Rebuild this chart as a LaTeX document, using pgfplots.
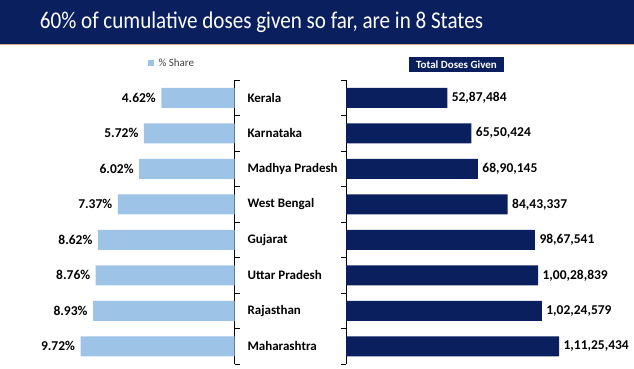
\documentclass[border=0pt]{standalone}
\usepackage{pgfplots}
\pgfplotsset{compat=1.18}
\usepackage{pgfplotstable}
\usepackage{graphicx}
\usepackage{fontspec}
\setmainfont{Carlito}
\definecolor{navy}{HTML}{0A1F5E}
\definecolor{lblue}{HTML}{9DC3E6}
\definecolor{tan}{HTML}{D9A98C}

\pgfplotstableread{
y share
0 4.62
1 5.72
2 6.02
3 7.37
4 8.62
5 8.76
6 8.93
7 9.72
}\sharetab

\pgfplotstableread{
y doses lab
0 5287484 52,87,484
1 6550424 65,50,424
2 6890145 68,90,145
3 8443337 84,43,337
4 9867541 98,67,541
5 10028839 1,00,28,839
6 10224579 1,02,24,579
7 11125434 1,11,25,434
}\dosetab

\begin{document}
\begin{tikzpicture}
\useasboundingbox (0,0) rectangle (634pt,-369pt);
\fill[navy] (0,0) rectangle (634pt,-44pt);
\fill[tan] (0,-44pt) rectangle (634pt,-45.2pt);
\node[text=white, font=\fontsize{24}{28}\selectfont, inner sep=0pt] at (261.5pt,-22pt) {\resizebox{443pt}{\height}{60\% of cumulative doses given so far, are in 8 States}};

% legend for left
\fill[lblue] (148pt,-60pt) rectangle (154pt,-66pt);
\node[anchor=west, font=\fontsize{11}{13}\selectfont, text=black!75] at (155pt,-63pt) {\% Share};
% legend for right
\node[fill=navy, text=white, font=\fontsize{11}{13}\selectfont\bfseries, inner sep=1.5pt, minimum width=95pt, minimum height=15pt] at (456.5pt,-64.5pt) {Total Doses Given};

\begin{axis}[
  at={(234.5pt,-80pt)}, anchor=north east,
  scale only axis, width=174pt, height=284pt,
  x dir=reverse, y dir=reverse,
  xmin=0, xmax=10.985, ymin=-0.5, ymax=7.5,
  xbar, bar width=20pt,
  hide x axis,
  axis y line*=right,
  y axis line style={-, black, line width=0.8pt},
  ytick={-0.5,0.5,...,7.5}, yticklabels={},
  tick align=outside, major tick length=5pt,
  tick style={black, line width=0.8pt},
  clip=false,
  nodes near coords={\pgfmathprintnumber[fixed,fixed zerofill,precision=2,assume math mode=true]{\pgfplotspointmeta}\%},
  point meta=x,
  every node near coord/.append style={anchor=east, xshift=-2pt, font=\fontsize{13.5}{15}\selectfont\bfseries, text=black},
]
\addplot[fill=lblue, draw=none] table[x=share, y=y] {\sharetab};
\end{axis}

\begin{axis}[
  at={(346pt,-80pt)}, anchor=north west,
  scale only axis, width=280pt, height=284pt,
  y dir=reverse,
  xmin=0, xmax=14620000, ymin=-0.5, ymax=7.5,
  xbar, bar width=20pt,
  hide x axis,
  axis y line*=left,
  y axis line style={-, black, line width=0.8pt},
  ytick={-0.5,0.5,...,7.5}, yticklabels={},
  tick align=outside, major tick length=5pt,
  tick style={black, line width=0.8pt},
  clip=false,
  nodes near coords,
  point meta=explicit symbolic,
  every node near coord/.append style={anchor=west, xshift=1pt, font=\fontsize{13.5}{15}\selectfont\bfseries, text=black},
  extra description/.code={
    \foreach \s [count=\i from 0] in {Kerala,Karnataka,Madhya Pradesh,West Bengal,Gujarat,Uttar Pradesh,Rajasthan,Maharashtra}{
      \node[anchor=west, font=\fontsize{13}{15}\selectfont\bfseries] at (axis cs:0,\i) [xshift=-102pt] {\s};
    }
  },
]
\addplot[fill=navy, draw=none] table[x=doses, y=y, meta=lab] {\dosetab};
\end{axis}
\end{tikzpicture}
\end{document}
